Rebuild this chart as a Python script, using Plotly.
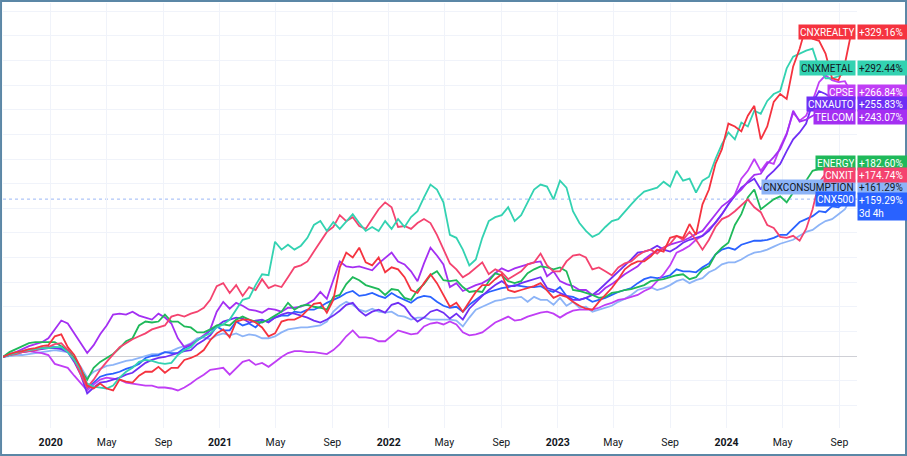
import pandas as pd
import plotly.graph_objects as go

# fortnightly closes, % change since the first bar (Sep 2019 -> Sep 2024)
dates = pd.date_range("2019-09-20", periods=132, freq="14D")

cnxrealty = [
    -1, 2, 4, 5, 7, 8, 10, 11, 20, 22, 9, 1,
    -12, -30, -33, -28, -33, -35, -24, -26, -27, -20, -16, -16,
    -11, -17, -12, -12, -4, -2, 1, 6, 16, 23, 27, 19,
    35, 37, 37, 34, 29, 20, 23, 35, 37, 37, 40, 47,
    53, 54, 44, 57, 90, 105, 100, 110, 95, 92, 100, 85,
    90, 88, 80, 67, 64, 74, 83, 74, 62, 50, 54, 45,
    55, 65, 72, 72, 78, 83, 67, 65, 67, 69, 71, 74,
    67, 59, 62, 60, 55, 51, 48, 47, 55, 62, 69, 78,
    88, 93, 96, 96, 101, 108, 106, 120, 122, 120, 134, 123,
    154, 169, 195, 210, 236, 233, 228, 244, 254, 220, 233, 258,
    266, 261, 294, 312, 335, 322, 320, 307, 282, 280, 297, 329.16,
]
cnxmetal = [
    -1, 1, 3, 5, 6, 7, 8, 8, 9, 9, 4, -4,
    -14, -28, -31, -32, -33, -30, -22, -16, -12, -6, -4, -5,
    -7, -8, -7, 1, 6, 9, 16, 20, 23, 29, 32, 37,
    47, 57, 59, 72, 83, 82, 116, 108, 113, 108, 112, 120,
    133, 137, 127, 136, 129, 137, 144, 135, 127, 131, 127, 137,
    129, 139, 131, 141, 147, 161, 174, 169, 156, 123, 120, 108,
    92, 98, 120, 137, 141, 143, 151, 137, 143, 156, 169, 174,
    172, 159, 178, 171, 147, 135, 127, 121, 124, 131, 137, 139,
    147, 154, 161, 167, 169, 171, 177, 172, 188, 178, 180, 166,
    178, 182, 200, 215, 227, 220, 237, 233, 249, 246, 259, 266,
    269, 292, 304, 307, 310, 312, 292, 282, 282, 284, 287, 292.44,
]
cpse = [
    -1, 1, 3, 4, 5, 4, 3, 1, -8, -10, -12, -20,
    -28, -35, -29, -24, -22, -23, -24, -27, -28, -29, -30, -30,
    -32, -32, -33, -35, -32, -28, -23, -19, -14, -13, -12, -19,
    -12, -6, -4, -9, -7, -11, -6, -1, 3, 5, 5, 4,
    4, 3, 2, 6, 12, 20, 26, 19, 19, 18, 15, 15,
    21, 26, 24, 22, 23, 30, 33, 34, 32, 35, 32, 24,
    21, 22, 24, 29, 34, 37, 40, 36, 37, 40, 42, 44,
    45, 43, 39, 43, 46, 47, 47, 47, 49, 52, 54, 57,
    58, 60, 62, 66, 69, 76, 83, 92, 105, 108, 112, 118,
    122, 129, 135, 144, 154, 164, 180, 188, 200, 188, 197, 195,
    212, 226, 247, 239, 244, 259, 278, 285, 280, 278, 279, 266.84,
]
cnxauto = [
    -1, 1, 3, 4, 5, 6, 7, 8, 8, 7, 4, -6,
    -19, -38, -32, -27, -26, -24, -22, -19, -17, -12, -7, -4,
    -2, -1, 1, 3, 5, 6, 12, 16, 21, 30, 35, 37,
    39, 38, 34, 36, 37, 34, 39, 42, 44, 43, 41, 39,
    36, 34, 37, 41, 46, 52, 54, 46, 41, 45, 47, 44,
    52, 54, 50, 41, 35, 39, 45, 47, 44, 38, 43, 37,
    48, 55, 61, 67, 72, 76, 71, 71, 74, 76, 78, 80,
    69, 67, 64, 61, 57, 57, 59, 62, 67, 73, 80, 86,
    92, 98, 105, 106, 108, 112, 108, 106, 110, 115, 118, 120,
    122, 127, 135, 144, 154, 163, 171, 176, 180, 169, 182, 188,
    195, 208, 220, 227, 236, 257, 269, 266, 262, 260, 258, 255.83,
]
telcom = [
    -1, 2, 4, 7, 10, 12, 14, 18, 27, 36, 33, 23,
    12, 3, 11, 22, 31, 42, 43, 42, 45, 41, 39, 37,
    43, 39, 33, 18, 9, 12, 16, 21, 27, 45, 55, 48,
    54, 51, 47, 46, 44, 48, 47, 45, 49, 49, 50, 53,
    57, 65, 58, 78, 96, 91, 90, 91, 89, 87, 94, 100,
    105, 96, 93, 86, 76, 94, 110, 102, 93, 70, 74, 66,
    69, 72, 74, 78, 84, 89, 86, 89, 91, 93, 95, 96,
    81, 86, 76, 73, 71, 67, 67, 62, 63, 69, 73, 78,
    83, 87, 91, 98, 103, 107, 110, 113, 115, 117, 120, 124,
    127, 135, 144, 152, 157, 163, 169, 177, 184, 185, 195, 202,
    210, 225, 249, 238, 240, 244, 247, 243, 240, 239, 242, 243.07,
]
energy = [
    -1, 4, 7, 10, 13, 14, 14, 14, 14, 10, 6, -2,
    -14, -24, -12, -6, -2, 2, 8, 15, 18, 31, 35, 34,
    35, 42, 35, 35, 30, 29, 24, 24, 27, 31, 32, 31,
    37, 40, 37, 35, 34, 37, 41, 45, 54, 47, 51, 52,
    50, 49, 47, 60, 62, 73, 80, 77, 72, 70, 68, 62,
    68, 67, 59, 57, 67, 73, 82, 86, 77, 76, 77, 70,
    65, 66, 65, 76, 84, 82, 76, 74, 76, 84, 88, 91,
    90, 88, 90, 86, 67, 66, 64, 62, 59, 60, 64, 65,
    67, 68, 70, 72, 76, 77, 78, 80, 82, 83, 78, 80,
    88, 91, 103, 110, 115, 133, 144, 161, 169, 149, 154, 159,
    162, 156, 166, 172, 178, 188, 190, 192, 190, 187, 185, 182.60,
]
cnxit = [
    -1, 1, 2, 4, 5, 6, 8, 9, 12, 13, 6, -4,
    -19, -32, -24, -14, -6, 1, 9, 13, 17, 20, 23, 27,
    29, 31, 40, 42, 40, 43, 45, 49, 57, 71, 74, 64,
    72, 61, 70, 67, 78, 69, 72, 70, 80, 90, 92, 96,
    106, 116, 126, 131, 143, 137, 141, 132, 129, 139, 149, 156,
    151, 131, 132, 129, 135, 139, 135, 123, 108, 94, 88, 80,
    84, 90, 95, 83, 88, 85, 78, 82, 86, 93, 95, 104,
    92, 86, 86, 96, 102, 103, 100, 88, 90, 86, 82, 90,
    94, 96, 102, 106, 108, 104, 110, 114, 122, 118, 126, 118,
    108, 118, 131, 139, 142, 147, 153, 159, 151, 146, 133, 130,
    121, 120, 122, 117, 129, 149, 176, 185, 182, 178, 176, 174.74,
]
cnxconsumption = [
    -1, 0, 1, 1, 2, 3, 4, 5, 6, 5, 4, -2,
    -11, -22, -16, -13, -10, -9, -7, -5, -4, -2, 0, 2,
    2, 4, 5, 8, 10, 13, 18, 19, 17, 21, 23, 21,
    23, 20, 22, 21, 18, 18, 20, 24, 27, 28, 29, 29,
    30, 31, 35, 45, 51, 55, 52, 47, 45, 48, 45, 44,
    45, 41, 40, 37, 39, 39, 37, 37, 37, 37, 36, 30,
    39, 47, 50, 53, 56, 57, 59, 59, 60, 55, 60, 57,
    57, 52, 59, 51, 55, 49, 50, 45, 47, 49, 51, 55,
    58, 62, 67, 69, 70, 67, 69, 72, 76, 78, 74, 77,
    79, 85, 88, 93, 95, 95, 98, 102, 105, 106, 108, 111,
    114, 116, 118, 122, 126, 128, 133, 137, 139, 144, 149, 161.29,
]
cnx500 = [
    -1, 1, 3, 5, 6, 7, 8, 9, 9, 8, 6, -2,
    -14, -33, -27, -21, -19, -18, -16, -13, -11, -8, -2, 0,
    1, 4, 3, 3, 8, 11, 16, 20, 26, 30, 26, 26,
    35, 31, 33, 29, 36, 35, 39, 41, 41, 45, 44, 47,
    47, 50, 54, 57, 60, 64, 66, 61, 62, 64, 61, 59,
    64, 60, 57, 54, 59, 61, 60, 55, 51, 49, 50, 45,
    52, 57, 62, 65, 67, 69, 70, 72, 71, 70, 70, 71,
    67, 65, 70, 61, 60, 57, 59, 55, 57, 59, 62, 65,
    67, 69, 74, 78, 80, 79, 80, 82, 88, 86, 86, 85,
    90, 94, 103, 108, 110, 108, 113, 115, 117, 117, 118, 120,
    123, 123, 129, 136, 139, 142, 147, 146, 152, 151, 157, 159.29,
]

# name, values, line/label colour, label text colour
series = [
    ("CNXCONSUMPTION", cnxconsumption, "#8db4f7", "#131722"),
    ("CNX500", cnx500, "#2962ff", "#ffffff"),
    ("CPSE", cpse, "#c03ef5", "#ffffff"),
    ("CNXAUTO", cnxauto, "#6f2ff5", "#ffffff"),
    ("TELCOM", telcom, "#a42ff2", "#ffffff"),
    ("ENERGY", energy, "#1fb95a", "#ffffff"),
    ("CNXIT", cnxit, "#f4436f", "#ffffff"),
    ("CNXMETAL", cnxmetal, "#33d2b1", "#131722"),
    ("CNXREALTY", cnxrealty, "#f5333f", "#ffffff"),
]

tick_dates = ["2020-01-01", "2020-05-01", "2020-09-01", "2021-01-01", "2021-05-01",
              "2021-09-01", "2022-01-01", "2022-05-01", "2022-09-01", "2023-01-01",
              "2023-05-01", "2023-09-01", "2024-01-01", "2024-05-01", "2024-09-01"]
tick_text = ["<b>2020</b>", "May", "Sep", "<b>2021</b>", "May", "Sep", "<b>2022</b>", "May",
             "Sep", "<b>2023</b>", "May", "Sep", "<b>2024</b>", "May", "Sep"]

fig = go.Figure()

for name, vals, color, _ in series:
    fig.add_trace(go.Scatter(
        x=dates, y=vals, name=name, mode="lines",
        line=dict(color=color, width=1.8),
        hovertemplate="%{y:.2f}%<extra>" + name + "</extra>",
    ))

# stack the end labels upward from the lowest so they do not overlap
gap = 12.2
label_y = {}
prev = None
for name, vals, color, tcol in sorted(series, key=lambda s: s[1][-1]):
    pos = vals[-1] if prev is None else max(vals[-1], prev + gap)
    label_y[name] = pos
    prev = pos

lbl_font = "Roboto"
for name, vals, color, tcol in series:
    fig.add_annotation(
        x=1, xref="paper", y=label_y[name], yref="y",
        xanchor="right", yanchor="middle", xshift=-1,
        text=name, showarrow=False, bgcolor=color, height=12,
        borderpad=1, font=dict(size=10, color=tcol, family=lbl_font),
    )
    if name == "CNX500":
        fig.add_annotation(
            x=1, xref="paper", y=label_y[name], yref="y",
            xanchor="left", yanchor="top", yshift=7,
            text="+%.2f%%<br>3d 4h" % vals[-1], showarrow=False, bgcolor=color,
            width=47, height=25, align="left", borderpad=1,
            font=dict(size=10, color=tcol, family=lbl_font),
        )
    else:
        fig.add_annotation(
            x=1, xref="paper", y=label_y[name], yref="y",
            xanchor="left", yanchor="middle",
            text="+%.2f%%" % vals[-1], showarrow=False, bgcolor=color,
            width=47, height=12, align="left", borderpad=1,
            font=dict(size=10, color=tcol, family=lbl_font),
        )

# dotted last-price line of the main symbol
fig.add_shape(type="line", xref="paper", x0=0, x1=1, yref="y",
              y0=cnx500[-1], y1=cnx500[-1],
              line=dict(color="#9cb8f6", width=1, dash="dot"), layer="below")

# outer frame around the whole screenshot
fig.add_shape(type="rect", xref="paper", yref="paper",
              x0=-0.0023, x1=1.0574, y0=-0.0635, y1=1.0047,
              line=dict(color="#5b87a6", width=2))

fig.update_layout(
    width=907, height=456,
    margin=dict(l=3, r=50, t=3, b=28),
    plot_bgcolor="#ffffff", paper_bgcolor="#ffffff",
    showlegend=False,
    font=dict(family="Roboto", color="#131722"),
    xaxis=dict(
        range=["2019-09-20", "2024-10-09"],
        tickvals=tick_dates, ticktext=tick_text,
        tickfont=dict(size=10.5, color="#131722"),
        showgrid=True, gridcolor="#f0f3fa", gridwidth=1,
        zeroline=False, showline=False, ticks="", ticklabelstandoff=6,
    ),
    yaxis=dict(
        range=[-73.1, 358.4], tick0=0, dtick=25,
        showgrid=True, gridcolor="#f0f3fa", gridwidth=1,
        zeroline=True, zerolinecolor="#cfd0d6", zerolinewidth=1,
        showticklabels=False, showline=False, ticks="",
    ),
)

# the page body has a default margin; drop it so the chart sits at 0,0
fig.write_html("out.html", config={"displayModeBar": False},
               post_script="document.body.style.margin='0';")
